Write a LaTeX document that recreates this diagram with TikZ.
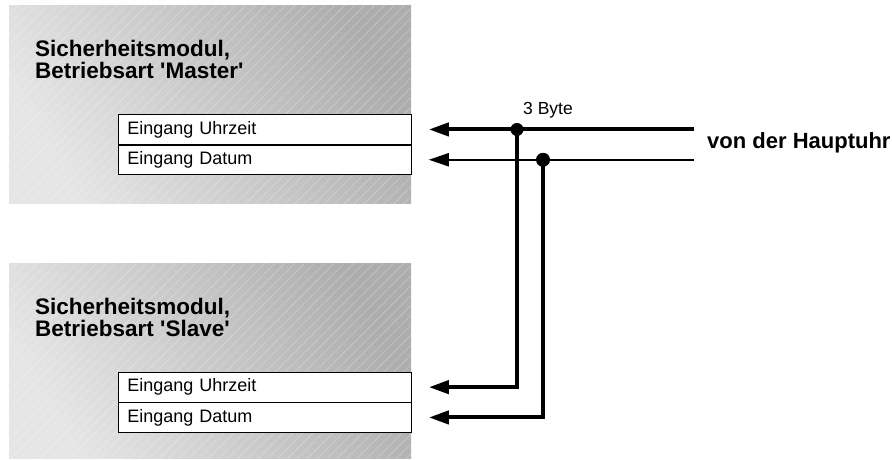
\documentclass[tikz,border=0pt]{standalone}
\usepackage{fontspec}
\setmainfont{Liberation Sans}
\usetikzlibrary{positioning,arrows.meta,patterns.meta}

\begin{document}
\begin{tikzpicture}[x=1pt,y=-1pt,
	modbox/.style={left color=black!10,right color=black!32,shading angle=120},
	hatch/.style={pattern={Lines[angle=45,distance=7pt,line width=0.6pt]},pattern color=white,opacity=0.3},
	modtitle/.style={anchor=north west,inner sep=0pt,align=left,font=\bfseries\fontsize{22.5}{22}\selectfont},
	eingang/.style={draw,line width=0.8pt,fill=white,anchor=north west,minimum width=293pt,minimum height=29.5pt,inner sep=0pt,text width=275pt,align=left,font=\fontsize{18}{18}\selectfont},
	wire/.style={line width=4pt,-{Triangle[length=20pt,width=13pt]}},
	thinwire/.style={line width=2.2pt,-{Triangle[length=20pt,width=13pt]}}]
		\useasboundingbox (0,0) rectangle (892,459);
		
		% Master
		\shade[modbox] (9,5) rectangle (411,203);
		\fill[hatch] (9,5) rectangle (411,203);
		\node[modtitle] (mtitle) at (35,40) {Sicherheitsmodul,\\Betriebsart \textquotesingle Master\textquotesingle};
		\node[eingang] (mu) at (118,114.3) {Eingang Uhrzeit};
		\node[eingang] (md) at (mu.south west) {Eingang Datum};
		
		% Slave
		\shade[modbox] (9,263) rectangle (411,458);
		\fill[hatch] (9,263) rectangle (411,458);
		\node[modtitle] (stitle) at (35,298) {Sicherheitsmodul,\\Betriebsart \textquotesingle Slave\textquotesingle};
		\node[eingang] (su) at (118,372) {Eingang Uhrzeit};
		\node[eingang] (sd) at (su.south west) {Eingang Datum};
		
		% Hauptuhr
		\node[anchor=west,inner sep=0pt,font=\bfseries\fontsize{22}{22}\selectfont] (uhr) at (707,143) {von der Hauptuhr};
		\coordinate (zeitin) at ([xshift=-13pt]uhr.west |- mu.east);
		\coordinate (datin) at ([xshift=-13pt]uhr.west |- md.east);
		\coordinate (j1) at (517,0 |- mu.east);
		\coordinate (j2) at (543,0 |- md.east);
		
		\draw[wire] (zeitin) -- ([xshift=17pt]mu.east);
		\draw[thinwire] (datin) -- ([xshift=17pt]md.east);
		\draw[wire] (j1) |- ([xshift=17pt]su.east);
		\draw[wire] (j2) |- ([xshift=17pt]sd.east);
		\fill (j1) circle[radius=6.5pt];
		\fill (j2) circle[radius=7pt];
		\node[font=\fontsize{17.5}{17.5}\selectfont] (byte) at (548,110) {3 Byte};
		
\end{tikzpicture}
\end{document}
